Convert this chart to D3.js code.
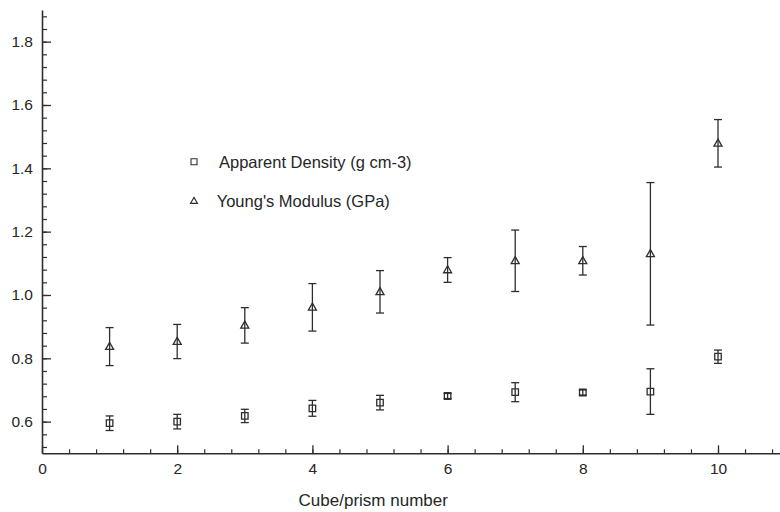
<!DOCTYPE html>
<html>
<head>
<meta charset="utf-8">
<script src="https://cdn.jsdelivr.net/npm/d3@7"></script>
<style>
  html, body { margin: 0; padding: 0; background: #fff; }
  svg { display: block; }
  text { font-family: "Liberation Sans", Arial, Helvetica, sans-serif; fill: #262626; }
</style>
</head>
<body>
<svg id="chart" width="780" height="512"></svg>
<script>
// Cube/prism measurements: apparent density and Young's modulus with error bars
const cubeNumbers = [1, 2, 3, 4, 5, 6, 7, 8, 9, 10];
const density     = [0.595, 0.600, 0.618, 0.642, 0.660, 0.681, 0.693, 0.692, 0.695, 0.805];
const densityErr  = [0.023, 0.023, 0.021, 0.025, 0.023, 0.008, 0.030, 0.008, 0.072, 0.021];
const modulus     = [0.837, 0.853, 0.904, 0.961, 1.010, 1.079, 1.108, 1.108, 1.130, 1.479];
const modulusErr  = [0.060, 0.054, 0.056, 0.075, 0.067, 0.039, 0.097, 0.045, 0.225, 0.075];

const xTickValues = [0, 2, 4, 6, 8, 10];
const yTickValues = [0.6, 0.8, 1.0, 1.2, 1.4, 1.6, 1.8];
const xTitle = "Cube/prism number";
const legendLabels = ["Apparent Density (g cm-3)", "Young's Modulus (GPa)"];

const ink = "#2e2e2e";
const svg = d3.select("#chart");

const x = d3.scaleLinear().domain([0, 11]).range([42, 785.6]);
const y = d3.scaleLinear().domain([0.5, 1.9]).range([453.3, 10]);

// Minor ticks (inward)
svg.append("g")
  .attr("transform", `translate(0,${y(0.5)})`)
  .call(d3.axisBottom(x).tickValues(d3.range(0.4, 11, 0.4)).tickFormat("")
        .tickSizeInner(-4).tickSizeOuter(0))
  .call(g => g.select(".domain").remove())
  .call(g => g.selectAll("line").attr("stroke", ink).attr("stroke-width", 1.2));

svg.append("g")
  .attr("transform", `translate(${x(0)},0)`)
  .call(d3.axisLeft(y).tickValues(d3.range(0.52, 1.9, 0.04)).tickFormat("")
        .tickSizeInner(-5).tickSizeOuter(0))
  .call(g => g.select(".domain").remove())
  .call(g => g.selectAll("line").attr("stroke", ink).attr("stroke-width", 1.2));

// Major axes
const xAxis = svg.append("g")
  .attr("transform", `translate(0,${y(0.5)})`)
  .call(d3.axisBottom(x).tickValues(xTickValues).tickFormat(d3.format("d"))
        .tickSizeInner(-8).tickSizeOuter(0).tickPadding(10));

const yAxis = svg.append("g")
  .attr("transform", `translate(${x(0)},0)`)
  .call(d3.axisLeft(y).tickValues(yTickValues).tickFormat(d3.format(".1f"))
        .tickSizeInner(-9).tickSizeOuter(0).tickPadding(9));

[xAxis, yAxis].forEach(a => {
  a.select(".domain").attr("stroke", ink).attr("stroke-width", 1.6);
  a.selectAll(".tick line").attr("stroke", ink).attr("stroke-width", 1.3);
  a.selectAll(".tick text")
    .attr("font-family", "'Liberation Sans', Arial, sans-serif")
    .attr("font-size", 15.5).attr("fill", "#262626");
});

svg.append("text")
  .attr("x", x(4.9)).attr("y", 500)
  .attr("text-anchor", "middle").attr("dominant-baseline", "central")
  .attr("font-size", 17)
  .text(xTitle);

// Markers
const sq = 6.5, triW = 8, triH = 7;
const squarePath = (cx, cy, s) => `M${cx - s/2},${cy - s/2}h${s}v${s}h${-s}Z`;
const triPath = (cx, cy, w, h) => `M${cx},${cy - h*0.6}L${cx + w/2},${cy + h*0.4}L${cx - w/2},${cy + h*0.4}Z`;

function drawSeries(vals, errs, shape) {
  const g = svg.append("g").attr("stroke", ink).attr("fill", "none").attr("stroke-width", 1.3);
  const capW = 8;
  cubeNumbers.forEach((c, i) => {
    const cx = x(c), top = y(vals[i] + errs[i]), bot = y(vals[i] - errs[i]);
    g.append("line").attr("x1", cx).attr("x2", cx).attr("y1", top).attr("y2", bot);
    g.append("line").attr("x1", cx - capW/2).attr("x2", cx + capW/2).attr("y1", top).attr("y2", top);
    g.append("line").attr("x1", cx - capW/2).attr("x2", cx + capW/2).attr("y1", bot).attr("y2", bot);
    g.append("path").attr("d", shape === "square"
      ? squarePath(cx, y(vals[i]), sq)
      : triPath(cx, y(vals[i]), triW, triH));
  });
}
drawSeries(density, densityErr, "square");
drawSeries(modulus, modulusErr, "triangle");

// Legend
const lg = svg.append("g");
lg.append("path").attr("d", squarePath(194, 161.7, 6))
  .attr("fill", "none").attr("stroke", ink).attr("stroke-width", 1.1);
lg.append("text").attr("x", 219).attr("y", 161.5)
  .attr("dominant-baseline", "central").attr("font-size", 16.5)
  .text(legendLabels[0]);
lg.append("path").attr("d", triPath(194, 201, 7, 6))
  .attr("fill", "none").attr("stroke", ink).attr("stroke-width", 1.1);
lg.append("text").attr("x", 216.7).attr("y", 201)
  .attr("dominant-baseline", "central").attr("font-size", 16.5)
  .text(legendLabels[1]);
</script>
</body>
</html>
